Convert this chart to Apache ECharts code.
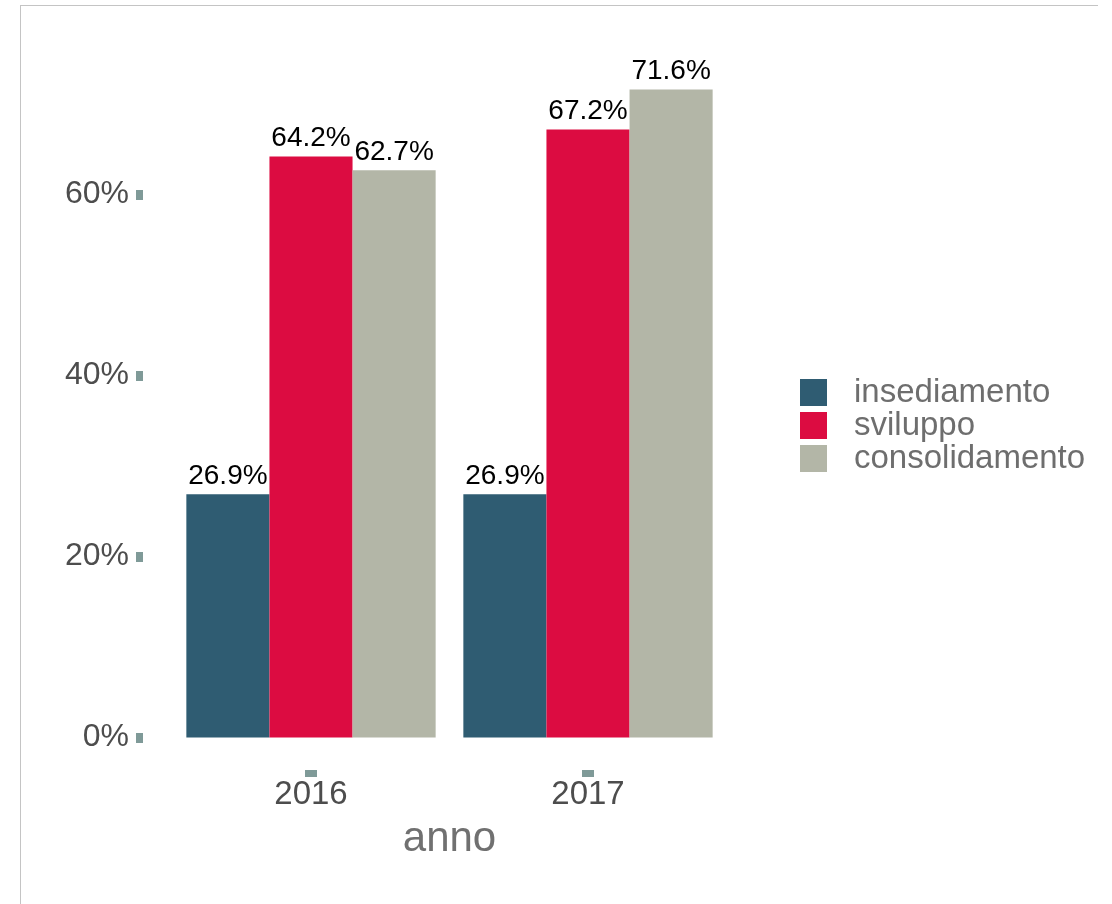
<!DOCTYPE html>
<html>
<head>
<meta charset="utf-8">
<script src="https://cdn.jsdelivr.net/npm/echarts@6/dist/echarts.min.js"></script>
<style>
  html, body { margin: 0; padding: 0; background: #fff; }
  #chart { position: absolute; left: 0; top: 0; width: 1112px; height: 904px; }
  #frame {
    position: absolute; left: 20px; top: 5px; width: 1077px; height: 910px;
    border-top: 1px solid #c4c4c4; border-left: 1px solid #c4c4c4;
    pointer-events: none;
  }
</style>
</head>
<body>
<div id="chart"></div>
<div id="frame"></div>
<script>
const years = ['2016', '2017']
const seriesNames = ['insediamento', 'sviluppo', 'consolidamento']
const insediamento = [0.269, 0.269]
const sviluppo = [0.642, 0.672]
const consolidamento = [0.627, 0.716]
const yTicks = [0, 0.2, 0.4, 0.6]

const colors = ['#2f5c72', '#dc0c41', '#b3b6a7']
const font = 'Liberation Sans, Arial, Helvetica, sans-serif'
const pct = (v) => (v * 100).toFixed(1) + '%'

const chart = echarts.init(document.getElementById('chart'))

const makeSeries = (name, data, i) => ({
  name,
  type: 'bar',
  data,
  barGap: '0%',
  barCategoryGap: '10%',
  itemStyle: { color: colors[i] },
  label: {
    show: true,
    position: 'top',
    distance: 4,
    color: '#000',
    fontSize: 28,
    fontFamily: font,
    formatter: ({ value }) => pct(value)
  }
})

chart.setOption({
  animation: false,
  backgroundColor: '#fff',
  textStyle: { fontFamily: font },
  grid: { left: 172.5, right: 385.5, top: 57, bottom: 134 },
  legend: {
    orient: 'vertical',
    left: 800,
    top: 376,
    padding: 0,
    itemWidth: 27,
    itemHeight: 27,
    itemGap: 0,
    icon: 'rect',
    data: seriesNames,
    textStyle: {
      fontSize: 33,
      color: '#6e6e6e',
      fontFamily: font,
      lineHeight: 32,
      padding: [0, 0, 0, 22]
    }
  },
  xAxis: {
    type: 'category',
    data: years,
    name: 'anno',
    nameLocation: 'middle',
    nameGap: 48,
    nameTextStyle: { fontSize: 42, color: '#707070', fontFamily: font },
    axisLine: { show: false, onZero: false },
    axisTick: {
      show: true,
      alignWithLabel: true,
      length: 7,
      lineStyle: { color: '#7f9a98', width: 12, cap: 'butt' }
    },
    axisLabel: { fontSize: 33, color: '#4d4d4d', margin: 8, fontFamily: font },
    splitLine: { show: false }
  },
  yAxis: {
    type: 'value',
    min: -0.0358,
    max: 0.752,
    offset: 29.5,
    axisLine: { show: false },
    splitLine: { show: false },
    axisTick: {
      show: true,
      customValues: yTicks,
      length: 7,
      lineStyle: { color: '#7f9a98', width: 10, cap: 'butt' }
    },
    axisLabel: {
      customValues: yTicks,
      fontSize: 32,
      color: '#4d4d4d',
      margin: 14,
      fontFamily: font,
      formatter: (v) => Math.round(v * 100) + '%'
    }
  },
  series: [
    makeSeries(seriesNames[0], insediamento, 0),
    makeSeries(seriesNames[1], sviluppo, 1),
    makeSeries(seriesNames[2], consolidamento, 2)
  ]
})
</script>
</body>
</html>
